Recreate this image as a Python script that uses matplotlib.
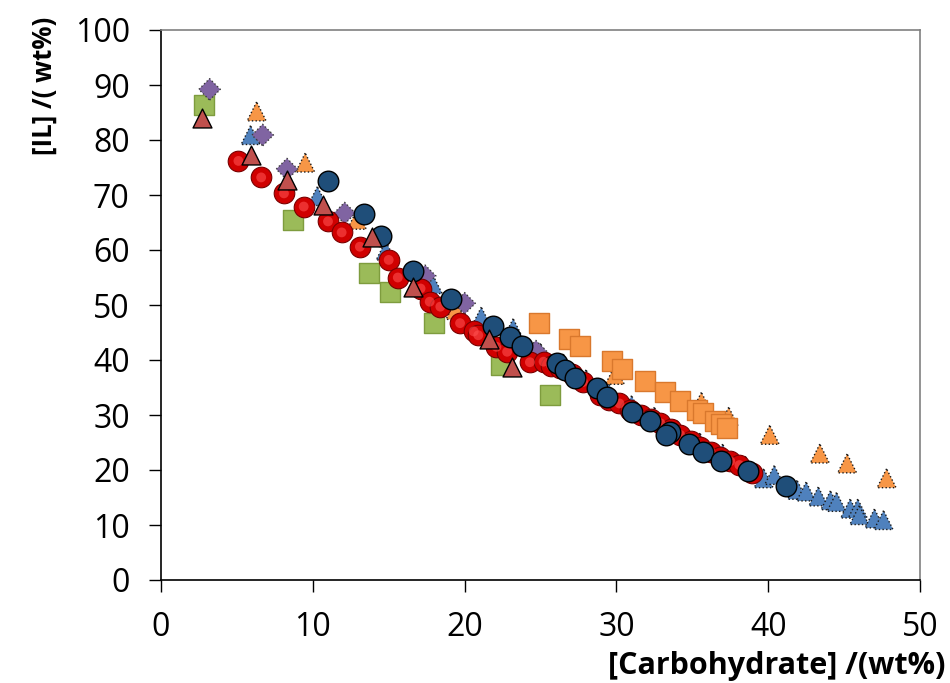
import matplotlib
matplotlib.use("Agg")
import matplotlib.pyplot as plt

plt.rcParams['font.family'] = ['Open Sans', 'DejaVu Sans']

# red spheres
red_x = [5.1, 6.6, 8.1, 9.4, 11.0, 11.9, 13.1, 15.0, 15.6, 17.1, 17.7, 18.4, 19.7,
         20.6, 20.9, 22.1, 22.8, 24.3, 25.2, 25.7, 26.3, 27.1, 27.8, 28.9, 29.5,
         30.2, 30.9, 31.6, 32.3, 32.9, 33.6, 34.2, 34.9, 35.5, 36.2, 36.8, 37.5,
         38.1, 38.9]
red_y = [76.2, 73.2, 70.3, 67.9, 65.2, 63.2, 60.6, 58.2, 55.0, 53.0, 50.6, 49.7, 46.7,
         45.2, 44.5, 42.4, 41.5, 39.6, 39.7, 39.0, 38.5, 37.4, 36.0, 33.6, 32.8,
         32.1, 31.0, 30.0, 29.3, 28.5, 27.4, 26.4, 25.3, 24.2, 23.3, 22.4, 21.6,
         20.9, 19.4]

# dark blue circles
navy_x = [11.0, 13.4, 14.5, 16.6, 19.1, 21.9, 23.0, 23.8, 26.1, 26.6, 27.3, 28.7,
          29.4, 31.0, 32.2, 33.5, 33.3, 34.8, 35.7, 36.9, 38.7, 41.2]
navy_y = [72.5, 66.5, 62.5, 56.2, 51.1, 46.2, 44.2, 42.5, 39.4, 38.2, 36.7, 35.0,
          33.2, 30.6, 29.0, 27.0, 26.4, 24.7, 23.3, 21.7, 19.8, 17.1]

# blue triangles
btri_x = [5.9, 10.3, 14.8, 17.9, 21.1, 23.2, 25.0, 26.5, 28.0, 29.5, 31.0, 32.5,
          34.0, 35.5, 37.0, 38.5, 39.7, 40.4, 41.9, 42.5, 43.3, 44.1, 44.5, 45.4,
          45.9, 46.0, 47.0, 47.6]
btri_y = [80.9, 69.8, 59.9, 53.8, 47.9, 45.8, 41.3, 39.4, 36.5, 34.0, 31.8, 29.7,
          27.3, 25.0, 23.0, 20.8, 18.5, 19.1, 16.4, 16.1, 15.2, 14.5, 14.2, 13.0,
          13.0, 11.8, 11.2, 10.9]

# purple diamonds
purp_x = [3.2, 6.7, 8.3, 12.1, 17.4, 20.0, 24.7]
purp_y = [89.2, 80.9, 74.7, 66.7, 55.3, 50.3, 41.6]

# green squares
green_x = [2.8, 8.7, 13.7, 15.1, 18.0, 22.4, 25.6]
green_y = [86.4, 65.5, 55.9, 52.4, 46.7, 39.1, 33.6]

# orange squares
osq_x = [24.9, 26.9, 27.6, 29.7, 30.4, 31.9, 33.2, 34.2, 35.3, 35.7, 36.5, 36.9, 37.3]
osq_y = [46.8, 43.9, 42.5, 39.8, 38.3, 36.1, 34.2, 32.6, 31.0, 30.3, 29.0, 28.3, 27.6]

# orange triangles
otri_x = [6.3, 9.5, 12.9, 19.4, 29.9, 35.6, 37.4, 40.1, 43.4, 45.2, 47.8]
otri_y = [85.2, 75.9, 65.5, 49.1, 37.3, 32.4, 29.7, 26.4, 23.0, 21.2, 18.5]

# red triangles
rtri_x = [2.7, 5.9, 8.3, 10.7, 13.9, 16.6, 21.6, 23.1]
rtri_y = [84.0, 77.3, 72.7, 68.2, 62.4, 53.2, 43.9, 38.8]

fig = plt.figure(figsize=(9.5, 6.83), dpi=100)
ax = fig.add_axes([161 / 950, 103 / 683, 759 / 950, 550 / 683])

ax.scatter(btri_x, btri_y, marker='^', s=185, c='#4F81BD', edgecolors='#1a1a1a',
           linewidths=1.0, linestyles=':', zorder=2)
ax.scatter(otri_x, otri_y, marker='^', s=185, c='#F79646', edgecolors='#1a1a1a',
           linewidths=1.0, linestyles=':', zorder=3)
ax.scatter(osq_x, osq_y, marker='s', s=200, c='#F79646', edgecolors='#D9782D',
           linewidths=1.0, zorder=4)
ax.scatter(green_x, green_y, marker='s', s=200, c='#9BBB59', edgecolors='#7E9C3E',
           linewidths=1.0, zorder=4)
ax.scatter(purp_x, purp_y, marker='D', s=120, c='#8064A2', edgecolors='#3c3c3c',
           linewidths=1.0, linestyles=':', zorder=5)
ax.scatter(red_x, red_y, marker='o', s=220, c='#D00000', edgecolors='#7A0000',
           linewidths=0.8, zorder=6)
# highlight on the spheres
ax.scatter(red_x, red_y, marker='o', s=50, c='#FF5050', edgecolors='none',
           alpha=0.6, zorder=6)
ax.scatter(navy_x, navy_y, marker='o', s=220, c='#1F4E79', edgecolors='black',
           linewidths=1.0, zorder=7)
ax.scatter(rtri_x, rtri_y, marker='^', s=185, c='#C0504D', edgecolors='black',
           linewidths=1.0, zorder=8)

ax.set_xlim(0, 50)
ax.set_ylim(0, 100)
ax.set_xticks(range(0, 51, 10))
ax.set_yticks(range(0, 101, 10))
ax.tick_params(direction='out', length=8.5, width=1, labelsize=23)
ax.tick_params(axis='x', pad=14)
ax.tick_params(axis='y', pad=14)

for side in ['left', 'bottom']:
    ax.spines[side].set_color('black')
    ax.spines[side].set_linewidth(1.2)
for side in ['top', 'right']:
    ax.spines[side].set_color('#808080')
    ax.spines[side].set_linewidth(1.2)

fig.text(945 / 950, 2 / 683, '[Carbohydrate] /(wt%)', ha='right', va='bottom',
         fontsize=22, fontweight='bold')
fig.text(44 / 950, 1 - 17 / 683, '[IL] /( wt%)', ha='center', va='top',
         rotation=90, fontsize=18.5, fontweight='bold')

fig.savefig('out.png', dpi=100)
